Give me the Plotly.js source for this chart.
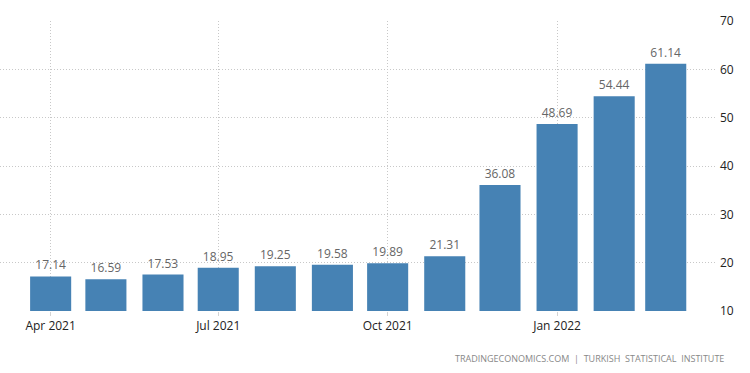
<!DOCTYPE html>
<html>
<head>
<meta charset="utf-8">
<script src="https://cdn.plot.ly/plotly-3.0.1.min.js"></script>
<style>html,body{margin:0;padding:0;background:#fff;}#chart{width:750px;height:373px;}</style>
</head>
<body>
<div id="chart"></div>
<script>
const months = ["2021-04-01","2021-05-01","2021-06-01","2021-07-01","2021-08-01","2021-09-01","2021-10-01","2021-11-01","2021-12-01","2022-01-01","2022-02-01","2022-03-01"];
const values = [17.14,16.59,17.53,18.95,19.25,19.58,19.89,21.31,36.08,48.69,54.44,61.14];
const labels = values.map(v => v.toFixed(2));
const yTicks = [10,20,30,40,50,60,70];
const source = "TRADINGECONOMICS.COM  |  TURKISH  STATISTICAL  INSTITUTE";

const DAY = 86400000;
const trace = {
  type: "bar",
  x: months,
  y: values.map(v => v - 10),
  base: 10,
  width: months.map(() => 22.3 * DAY),
  marker: {color: "#4682B4"},
  text: labels,
  textposition: "outside",
  cliponaxis: false,
  textfont: {family: "Open Sans, sans-serif", size: 12, color: "#666666"},
  hoverinfo: "skip"
};

const layout = {
  width: 750, height: 373,
  margin: {l: 0, r: 35, t: 21, b: 62},
  paper_bgcolor: "#ffffff", plot_bgcolor: "#ffffff",
  showlegend: false,
  xaxis: {
    type: "date",
    range: ["2021-03-04 12:00", "2022-03-27 18:00"],
    tick0: "2021-01-01", dtick: "M3",
    tickformat: "%b %Y",
    showgrid: true, gridcolor: "#c8c8c8", griddash: "1px,2px", gridwidth: 1,
    ticks: "outside", ticklen: 4, tickcolor: "#d4d4d4",
    showline: false, zeroline: false,
    tickfont: {family: "Open Sans, sans-serif", size: 12, color: "#222222"}
  },
  yaxis: {
    side: "right",
    range: [10, 70],
    tickvals: yTicks,
    showgrid: true, gridcolor: "#c8c8c8", griddash: "1px,2px", gridwidth: 1,
    zeroline: false, showline: false, ticks: "",
    ticklabelstandoff: 4,
    tickfont: {family: "Open Sans, sans-serif", size: 12, color: "#222222"}
  },
  annotations: [{
    text: source,
    xref: "paper", yref: "paper",
    x: 1.015, y: -0.165,
    xanchor: "right", yanchor: "middle",
    showarrow: false,
    font: {family: "Open Sans, sans-serif", size: 9, color: "#888888"}
  }]
};

Plotly.newPlot("chart", [trace], layout, {displayModeBar: false, staticPlot: true});
</script>
</body>
</html>
